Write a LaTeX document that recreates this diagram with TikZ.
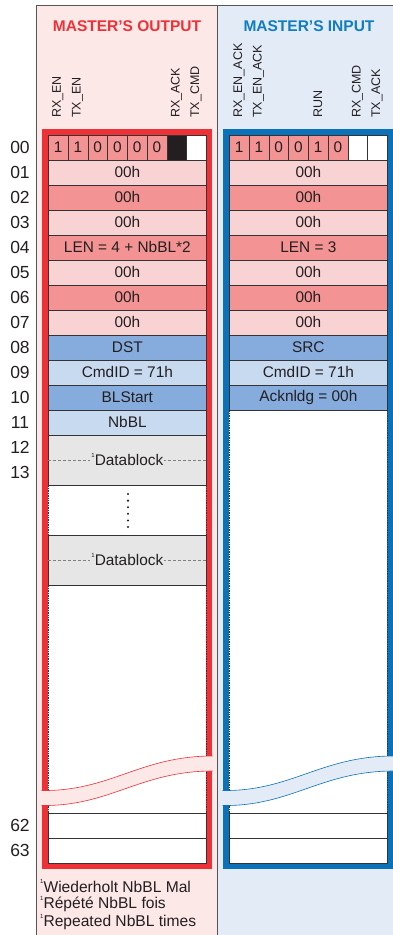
\documentclass[tikz,border=0pt]{standalone}
\usepackage{fontspec}
\setmainfont{Liberation Sans}
\definecolor{pinkbg}{HTML}{FDE8E8}
\definecolor{bluebg}{HTML}{E3EBF6}
\definecolor{framered}{HTML}{EE3136}
\definecolor{frameblue}{HTML}{0B72B9}
\definecolor{pinkL}{HTML}{F9D3D3}
\definecolor{pinkD}{HTML}{F39393}
\definecolor{blueD}{HTML}{85ACDC}
\definecolor{blueL}{HTML}{C8DAF0}
\definecolor{grayblock}{HTML}{E6E6E6}
\definecolor{txt}{HTML}{231F20}
\definecolor{cellline}{HTML}{333333}
\definecolor{titlered}{HTML}{EE3136}
\definecolor{titleblue}{HTML}{0F7DC2}
\definecolor{panelline}{HTML}{555555}
\newcommand{\cellfnt}{\fontsize{15.4}{17}\selectfont}
\newcommand{\footfnt}{\fontsize{15.6}{17}\selectfont}
\newcommand{\lblfnt}{\fontsize{12.5}{14}\selectfont}
\newcommand{\supone}{\raisebox{1.0ex}{\fontsize{6}{6}\selectfont 1}}
\tikzset{
  cell/.style={draw=cellline, line width=0.7pt, minimum height=25pt, minimum width=158pt,
    inner sep=0pt, font=\cellfnt, text=txt, anchor=north west},
  bitcell/.style={draw=cellline, line width=0.7pt, minimum height=25pt, minimum width=19.75pt,
    inner sep=0pt, font=\cellfnt, text=txt, anchor=north west},
  blockcell/.style={cell, fill=grayblock, minimum height=50pt},
  bitlbl/.style={rotate=90, anchor=west, inner sep=0pt, font=\lblfnt, text=txt},
  rowlbl/.style={font=\fontsize{17.5}{19}\selectfont, text=txt, inner sep=0pt},
  title/.style={font=\fontsize{15.5}{17}\selectfont\bfseries, inner sep=0pt},
  foot/.style={font=\footfnt, text=txt, anchor=west, inner sep=0pt},
  edgedots/.style={cellline, densely dotted, line width=0.7pt},
  wave/.style={line width=0.6pt}
}
\begin{document}
\begin{tikzpicture}[x=1pt,y=-1pt]
\useasboundingbox (0,0) rectangle (393,935);
% panels
\fill[pinkbg] (36,5.5) rectangle (217.5,935);
\fill[bluebg] (217.5,5.5) rectangle (393,935);
\draw[panelline, line width=0.8pt] (36,935) -- (36,5.5) -- (393,5.5);
\draw[panelline, line width=0.8pt] (217.5,5.5) -- (217.5,935);
% titles
\node[title, text=titlered] (tout) at (127,26.5) {MASTER’S OUTPUT};
\node[title, text=titleblue] (tin) at (309,26.5) {MASTER’S INPUT};
% frames
\fill[white] (48,134.5) rectangle (206,862.5);
\fill[white] (229,134.5) rectangle (387,862.5);
\draw[framered, line width=6pt] (45,131.5) rectangle (209,865.5);
\draw[frameblue, line width=6pt] (226,131.5) rectangle (390,865.5);
% bit labels
\node[bitlbl] (lo0) at (57.9,118) {RX\_EN};
\node[bitlbl] (lo1) at (77.6,118) {TX\_EN};
\node[bitlbl] (lo6) at (176.4,118) {RX\_ACK};
\node[bitlbl] (lo7) at (196.1,118) {TX\_CMD};
\node[bitlbl] (li0) at (238.9,118) {RX\_EN\_ACK};
\node[bitlbl] (li1) at (258.6,118) {TX\_EN\_ACK};
\node[bitlbl] (li4) at (317.9,118) {RUN};
\node[bitlbl] (li6) at (357.4,118) {RX\_CMD};
\node[bitlbl] (li7) at (377.1,118) {TX\_ACK};
% row 00 bits
\foreach \i/\v in {0/1,1/1,2/0,3/0,4/0,5/0}
  \node[bitcell, fill=pinkD] (ob\i) at (48+19.75*\i,134.5) {\v};
\node[bitcell, fill=txt] (ob6) at (48+19.75*6,134.5) {};
\node[bitcell, fill=white] (ob7) at (48+19.75*7,134.5) {};
\foreach \i/\v in {0/1,1/1,2/0,3/0,4/1,5/0}
  \node[bitcell, fill=pinkD] (ib\i) at (229+19.75*\i,134.5) {\v};
\node[bitcell, fill=white] (ib6) at (229+19.75*6,134.5) {};
\node[bitcell, fill=white] (ib7) at (229+19.75*7,134.5) {};
% output rows
\foreach \r/\c/\t in {1/pinkL/00h, 2/pinkD/00h, 3/pinkL/00h, 4/pinkD/{LEN = 4 + NbBL*2},
  5/pinkL/00h, 6/pinkD/00h, 7/pinkL/00h, 8/blueD/DST, 9/blueL/{CmdID = 71h},
  10/blueD/BLStart, 11/blueL/NbBL}
  \node[cell, fill=\c] (o\r) at (48,134.5+25*\r) {\t};
% input rows
\foreach \r/\c/\t in {1/pinkL/00h, 2/pinkD/00h, 3/pinkL/00h, 4/pinkD/{LEN = 3},
  5/pinkL/00h, 6/pinkD/00h, 7/pinkL/00h, 8/blueD/SRC, 9/blueL/{CmdID = 71h},
  10/blueD/{Acknldg = 00h}}
  \node[cell, fill=\c] (i\r) at (229,134.5+25*\r) {\t};
% dotted edges of empty areas
\draw[edgedots] (48,484.5) -- (48,534.5) (206,484.5) -- (206,534.5);
\draw[edgedots] (48,584.5) -- (48,812.5) (206,584.5) -- (206,812.5);
\draw[edgedots] (229,409.5) -- (229,812.5) (387,409.5) -- (387,812.5);
% datablocks
\foreach \n/\y in {1/434.5, 2/534.5}{
  \node[blockcell] (db\n) at (48,\y) {};
  \draw[gray, densely dashed, line width=0.6pt] (db\n.west) -- (db\n.east);
  \node[fill=grayblock, inner sep=1pt, font=\cellfnt, text=txt] (dbt\n) at (db\n.center) {\supone Datablock};
}
% vertical dots
\foreach \k in {0,...,5}
  \fill[txt] (128,494+6.6*\k) circle (1.15);
% rows 62 / 63
\node[cell, fill=white] (o62) at (48,812.5) {};
\node[cell, fill=white] (o63) at (48,837.5) {};
\node[cell, fill=white] (i62) at (229,812.5) {};
\node[cell, fill=white] (i63) at (229,837.5) {};
% break bands
\fill[pinkbg] (41.5,790.5) .. controls (110,791.5) and (140,756) .. (212.5,756)
  -- (212.5,771) .. controls (140,771) and (110,806.5) .. (41.5,805.5) -- cycle;
\draw[wave, framered] (41.5,790.5) .. controls (110,791.5) and (140,756) .. (212.5,756);
\draw[wave, framered] (41.5,805.5) .. controls (110,806.5) and (140,771) .. (212.5,771);
\fill[bluebg] (222.5,790.5) .. controls (291,791.5) and (321,756) .. (393.5,756)
  -- (393.5,771) .. controls (321,771) and (291,806.5) .. (222.5,805.5) -- cycle;
\draw[wave, frameblue] (222.5,790.5) .. controls (291,791.5) and (321,756) .. (393.5,756);
\draw[wave, frameblue] (222.5,805.5) .. controls (291,806.5) and (321,771) .. (393.5,771);
% row labels
\foreach \r/\t in {0/00,1/01,2/02,3/03,4/04,5/05,6/06,7/07,8/08,9/09,10/10,11/11,12/12,13/13}
  \node[rowlbl] (rl\t) at (20,147+25*\r) {\t};
\node[rowlbl] (rl62) at (20,825) {62};
\node[rowlbl] (rl63) at (20,850) {63};
% footnotes
\node[foot] (f1) at (40,886) {\supone Wiederholt NbBL Mal};
\node[foot] (f2) at (40,904) {\supone Répété NbBL fois};
\node[foot] (f3) at (40,922) {\supone Repeated NbBL times};
\end{tikzpicture}
\end{document}
